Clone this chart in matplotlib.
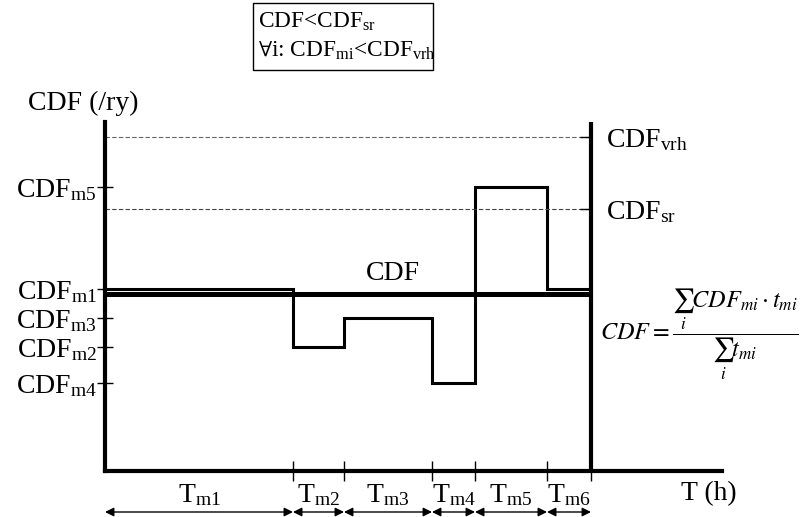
import numpy as np
import matplotlib
matplotlib.use("Agg")
from matplotlib import pyplot as plt
from matplotlib.patches import Rectangle

plt.rcParams['font.family'] = ['Liberation Serif', 'DejaVu Serif']
plt.rcParams['mathtext.fontset'] = 'custom'
plt.rcParams['mathtext.rm'] = 'Liberation Serif'
plt.rcParams['mathtext.it'] = 'Liberation Serif:italic'
plt.rcParams['mathtext.fallback'] = 'stix'

# maintenance periods (h) and CDF level in each period (/ry)
periods = ['m1', 'm2', 'm3', 'm4', 'm5', 'm6']
durations = [18.8, 5.1, 8.8, 4.3, 7.2, 4.4]
cdf_levels = [1.82, 1.24, 1.53, 0.88, 2.84, 1.82]
cdf_vrh = 3.34
cdf_sr = 2.62

bounds = np.concatenate([[0], np.cumsum(durations)])
t_end = bounds[-1]
cdf_avg = np.sum(np.array(cdf_levels) * np.array(durations)) / t_end

FS = 20

fig = plt.figure(figsize=(8.05, 5.17), dpi=100)
ax = fig.add_axes([105 / 805, 46 / 517, 617 / 805, 349 / 517])
ax.set_xlim(0, 61.7)
ax.set_ylim(0, 3.49)

for s in ['top', 'right']:
    ax.spines[s].set_visible(False)
for s in ['left', 'bottom']:
    ax.spines[s].set_linewidth(3.0)

# step curve
ax.stairs(cdf_levels, bounds, color='black', lw=2.2, baseline=None)
# average CDF
ax.plot([0, t_end], [cdf_avg, cdf_avg], color='black', lw=3.6, solid_capstyle='butt')
ax.text(28.8, cdf_avg + 0.08, 'CDF', fontsize=FS, ha='center', va='bottom')

# limits
ax.plot([0, t_end], [cdf_vrh, cdf_vrh], ls='--', color='#666666', lw=0.8, dashes=(4, 2))
ax.plot([0, t_end], [cdf_sr, cdf_sr], ls='--', color='#444444', lw=0.8, dashes=(4, 2))
ax.axvline(t_end, ymin=0, ymax=1, color='black', lw=3.0)
ax.plot([t_end, t_end], [cdf_vrh, cdf_sr], ls='', marker=0, ms=8, mew=1, color='black')
ax.text(t_end + 1.5, cdf_vrh - 0.03, r'CDF$_{\mathrm{vrh}}$', fontsize=FS, va='center', ha='left')
ax.text(t_end + 1.5, cdf_sr - 0.03, r'CDF$_{\mathrm{sr}}$', fontsize=FS, va='center', ha='left')

# y ticks
tick_idx = [0, 1, 2, 3, 4]
ax.set_yticks([cdf_levels[i] for i in tick_idx])
ax.set_yticklabels([r'CDF$_{\mathrm{%s}}$' % periods[i] for i in tick_idx], fontsize=FS)
ax.tick_params(axis='y', direction='inout', length=12, width=1, pad=0)

# x ticks at period bounds
ax.set_xticks(bounds[1:])
ax.set_xticklabels([])
ax.tick_params(axis='x', direction='inout', length=14, width=1)

# period labels and arrows
for i, p in enumerate(periods):
    mid = (bounds[i] + bounds[i + 1]) / 2
    ax.text(mid, -0.24, r'T$_{\mathrm{%s}}$' % p, fontsize=FS, ha='center', va='center', clip_on=False)
    ax.annotate('', xy=(bounds[i], -0.41), xytext=(bounds[i + 1], -0.41),
                arrowprops=dict(arrowstyle='<|-|>', color='black', lw=1,
                                shrinkA=0, shrinkB=0, mutation_scale=13),
                annotation_clip=False)
ax.text(60.4, -0.23, 'T (h)', fontsize=FS, ha='center', va='center', clip_on=False)

ax.text(-2.2, 3.68, 'CDF (/ry)', fontsize=FS, ha='center', va='center', clip_on=False)

# formula
fig.text(600 / 805, 1 - 334 / 517,
         r'$CDF = \dfrac{\sum_i CDF_{mi}\cdot t_{mi}}{\sum_i t_{mi}}$',
         fontsize=17.5, ha='left', va='center', math_fontfamily='stix')

# condition box
fig.patches.append(Rectangle((253 / 805, 1 - 70 / 517), 180 / 805, 67 / 517,
                             transform=fig.transFigure, fill=False, lw=1, ec='black'))
fig.text(258 / 805, 1 - 22 / 517, r'CDF<CDF$_{\mathrm{sr}}$', fontsize=16.8, va='center')
fig.text(258 / 805, 1 - 51 / 517, r'$\forall$i: CDF$_{\mathrm{mi}}$<CDF$_{\mathrm{vrh}}$',
         fontsize=16.8, va='center')

fig.savefig('out.png', dpi=100)
